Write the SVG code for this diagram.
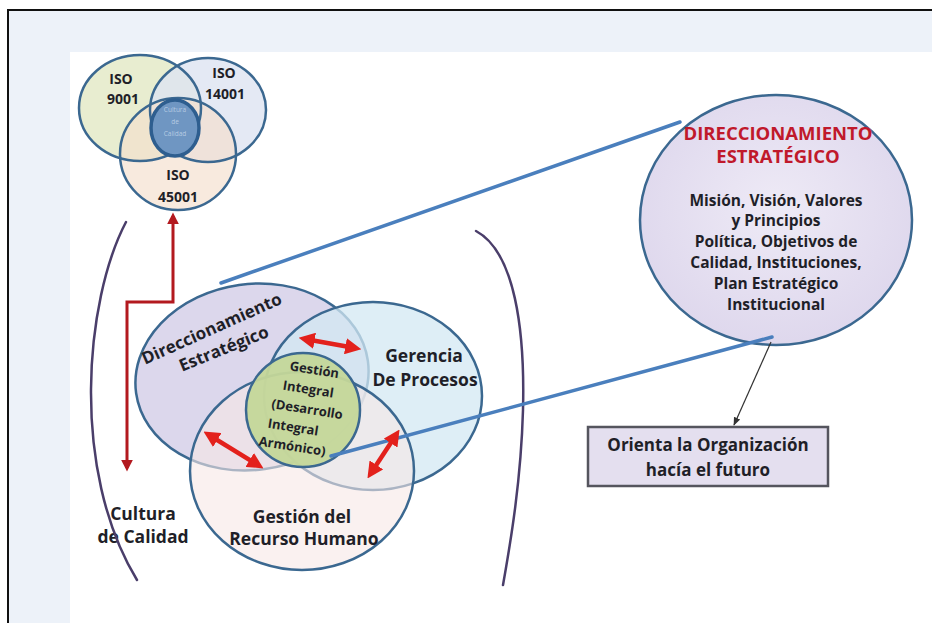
<svg xmlns="http://www.w3.org/2000/svg" width="932" height="623" viewBox="0 0 932 623">
<defs>
<style>
.t{font-family:"Open Sans","Liberation Sans",sans-serif;font-weight:700;fill:#1f1f28;text-anchor:middle}
.ol{fill:none;stroke:#3b6890;stroke-width:2.5}
.blue{fill:none;stroke:#4a7fbd;stroke-width:3.5;stroke-linecap:round}
.brk{fill:none;stroke:#4a3e6a;stroke-width:2.5;stroke-linecap:round}
.dbl{fill:none;stroke:#e3211c;stroke-width:4.5;marker-start:url(#rh);marker-end:url(#rh)}
.red{fill:#c0192b}
.tiny{font-family:"Open Sans","Liberation Sans",sans-serif;font-size:6.5px;fill:#b6cbe2;text-anchor:middle}
</style>
<marker id="rh" viewBox="0 0 10 10" refX="6" refY="5" markerWidth="3.6" markerHeight="3.6" orient="auto-start-reverse"><path d="M0,0 L10,5 L0,10 z" fill="#e3211c"/></marker>
<marker id="dr" viewBox="0 0 10 10" refX="7" refY="5" markerWidth="4" markerHeight="4" orient="auto-start-reverse"><path d="M0,0 L10,5 L0,10 z" fill="#b3191f"/></marker>
<marker id="bk" viewBox="0 0 10 10" refX="9" refY="5" markerWidth="7" markerHeight="7" orient="auto"><path d="M0,1 L10,5 L0,9 z" fill="#333"/></marker>
<radialGradient id="bg1" cx="0.5" cy="0.45" r="0.6"><stop offset="0" stop-color="#eeeaf6"/><stop offset="1" stop-color="#ddd6ec"/></radialGradient>
</defs>
<rect x="0" y="0" width="932" height="623" fill="#ffffff"/>
<rect x="8" y="10" width="934" height="625" fill="#edf2f9" stroke="#111" stroke-width="2"/>
<rect x="70" y="52" width="870" height="580" fill="#ffffff"/>

<g id="iso-venn">
<ellipse cx="140" cy="108" rx="61" ry="53" fill="#e6ebcb" fill-opacity="0.9"/>
<ellipse cx="208" cy="110" rx="58" ry="52" fill="#dde3f1" fill-opacity="0.8"/>
<ellipse cx="178" cy="154" rx="58" ry="56" fill="#f5dfcc" fill-opacity="0.65"/>
<ellipse class="ol" cx="140" cy="108" rx="61" ry="53"/>
<ellipse class="ol" cx="208" cy="110" rx="58" ry="52"/>
<ellipse class="ol" cx="178" cy="154" rx="58" ry="56"/>
<ellipse cx="175" cy="128" rx="24" ry="28" fill="#6f96c2" stroke="#2e5e8f" stroke-width="3.5"/>
<text class="t" x="121" y="84" font-size="14">ISO</text>
<text class="t" x="123" y="104" font-size="14">9001</text>
<text class="t" x="224" y="78" font-size="14">ISO</text>
<text class="t" x="225" y="99" font-size="14">14001</text>
<text class="t" x="178" y="180" font-size="14">ISO</text>
<text class="t" x="178" y="202" font-size="14">45001</text>
<text class="tiny" x="175" y="112">Cultura</text>
<text class="tiny" x="175" y="124">de</text>
<text class="tiny" x="175" y="136">Calidad</text>
</g>

<g id="direccionamiento">
<ellipse cx="252" cy="377" rx="117" ry="93" transform="rotate(-8 252 377)" fill="#d8d3ea" fill-opacity="0.9" stroke="#3b6890" stroke-width="2.5"/>
</g>
<g id="gerencia">
<ellipse cx="373" cy="396" rx="109" ry="94" fill="#d3e8f3" fill-opacity="0.75" stroke="#3b6890" stroke-width="2.5"/>
</g>
<g id="recurso-humano">
<ellipse cx="302" cy="471" rx="112" ry="99" fill="#f6e7e6" fill-opacity="0.6" stroke="#3b6890" stroke-width="2.5"/>
</g>
<g id="gestion-integral">
<ellipse cx="303" cy="410" rx="57" ry="57" fill="#c4d799" fill-opacity="0.95" stroke="#3b6890" stroke-width="2.5"/>
</g>
<g id="labels">
<text class="t" font-size="17" transform="translate(214 334) rotate(-24)">Direccionamiento</text>
<text class="t" font-size="17" transform="translate(226 354) rotate(-22)">Estratégico</text>
<text class="t" x="424" y="362" font-size="17.5">Gerencia</text>
<text class="t" x="425" y="386" font-size="17.5">De Procesos</text>
<text class="t" x="302" y="523" font-size="17.5">Gestión del</text>
<text class="t" x="304" y="545" font-size="17.5">Recurso Humano</text>
<g transform="rotate(9 303 410)">
<text class="t" x="308" y="373" font-size="13">Gestión</text>
<text class="t" x="305" y="393" font-size="13">Integral</text>
<text class="t" x="307" y="413" font-size="13">(Desarrollo</text>
<text class="t" x="296" y="433" font-size="13">Integral</text>
<text class="t" x="298" y="452" font-size="13">Armónico)</text>
</g>
</g>
<g id="cultura-calidad">
<text class="t" x="143" y="520" font-size="17.5">Cultura</text>
<text class="t" x="143" y="543" font-size="17.5">de Calidad</text>
</g>

<g id="direccionamiento-detalle">
<ellipse cx="776" cy="220" rx="136" ry="125" fill="url(#bg1)" stroke="#3b6890" stroke-width="2.5"/>
<text class="t red" x="778" y="140" font-size="18.5" style="fill:#c0192b">DIRECCIONAMIENTO</text>
<text class="t red" x="778" y="163" font-size="18.5" style="fill:#c0192b">ESTRATÉGICO</text>
<text class="t" x="776" y="206" font-size="15.5">Misión, Visión, Valores</text>
<text class="t" x="776" y="226" font-size="15.5">y Principios</text>
<text class="t" x="776" y="247" font-size="15.5">Política, Objetivos de</text>
<text class="t" x="776" y="268" font-size="15.5">Calidad, Instituciones,</text>
<text class="t" x="776" y="289" font-size="15.5">Plan Estratégico</text>
<text class="t" x="776" y="310" font-size="15.5">Institucional</text>
</g>

<g id="orienta">
<rect x="588" y="427" width="240" height="59" fill="#e4dfef" stroke="#55555e" stroke-width="2.5"/>
<text class="t" x="708" y="451" font-size="17">Orienta la Organización</text>
<text class="t" x="708" y="476" font-size="17">hacía el futuro</text>
</g>

<g id="connectors">
<path class="brk" d="M126,222 C85,300 70,470 137,580"/>
<path class="brk" d="M476,231 C515,252 525,330 523,410 C521,480 511,540 503,585"/>
<line class="blue" x1="221" y1="283" x2="680" y2="122"/>
<line class="blue" x1="331" y1="456" x2="772" y2="337"/>
<line class="dbl" x1="305" y1="339" x2="355" y2="348"/>
<line class="dbl" x1="209" y1="435" x2="258" y2="465"/>
<line class="dbl" x1="396" y1="435" x2="371" y2="473"/>
<polyline points="127,468 127,302 173,302 173,216" fill="none" stroke="#b3191f" stroke-width="3" marker-start="url(#dr)" marker-end="url(#dr)"/>
<line x1="771" y1="342" x2="734" y2="425" stroke="#333" stroke-width="1.2" marker-end="url(#bk)"/>
</g>
</svg>
